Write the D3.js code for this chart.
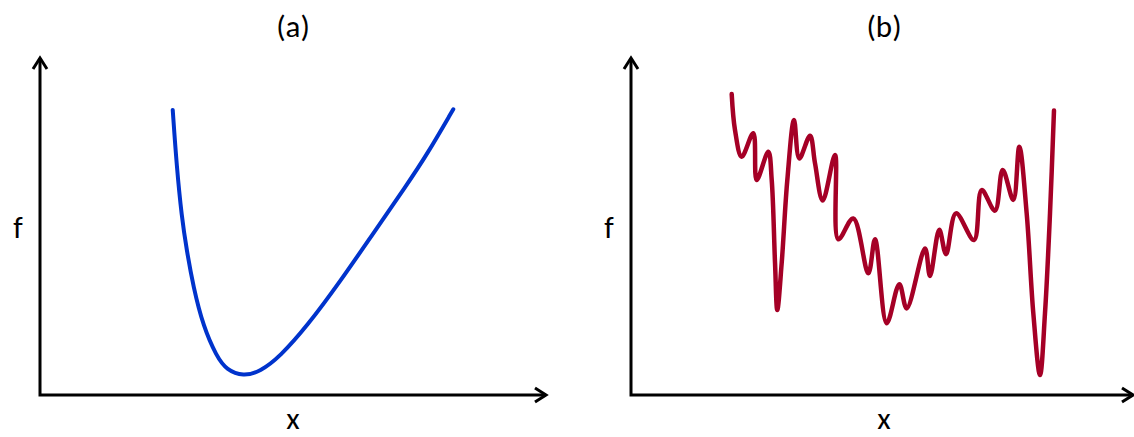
<!DOCTYPE html>
<html>
<head>
<script src="https://cdnjs.cloudflare.com/ajax/libs/d3/7.8.5/d3.min.js"></script>
<meta charset="utf-8">
<title>convex vs non-convex</title>
<style>
body { margin: 0; background: #fff; }
svg { display: block; }
.lbl { font-family: Carlito, Calibri, Lato, sans-serif; font-size: 31px; fill: #000; }
</style>
</head>
<body>
<script>

// panel (a): smooth convex function, x / f in arbitrary 0-100 units
var xA = [26.23, 27.02, 28.00, 28.99, 30.30, 32.27, 34.92, 36.90, 40.18, 43.48, 47.43, 52.71, 59.29, 65.87, 72.47, 76.42, 81.68];
var fA = [84.6, 67.7, 52.9, 43.0, 32.1, 20.3, 11.4, 7.4, 5.6, 6.9, 11.4, 20.3, 33.6, 48.0, 62.3, 71.2, 84.8];

// panel (b): rugged non-convex function
var xB = [20.06, 20.72, 22.05, 24.36, 25.04, 27.35, 28.03, 28.69, 29.14, 30.02, 31.14, 32.47, 33.53, 35.66, 36.65,
          38.19, 40.64, 41.29, 44.28, 47.27, 48.61, 50.94, 53.45, 54.92, 58.57, 59.56, 61.41, 62.75, 64.74, 68.33,
          69.86, 72.51, 74.04, 76.16, 77.35, 78.82, 80.14, 81.47, 82.47, 83.47, 84.26];
var fB = [89.3, 78.6, 70.7, 77.7, 63.8, 72.2, 63.8, 39.2, 25.2, 39.2, 63.8, 81.6, 70.2, 76.9, 68.8,
          57.7, 71.2, 46.2, 52.4, 36.1, 46.2, 21.3, 32.9, 25.7, 43.5, 35.3, 49.0, 41.8, 53.9, 46.0,
          60.8, 54.7, 66.8, 57.9, 73.7, 53.9, 24.3, 5.9, 24.3, 54.0, 84.4];

var titles = ["(a)", "(b)"];
var xLabel = "x", yLabel = "f";

var W = 1134, H = 437;
var svg = d3.select("body").append("svg").attr("width", W).attr("height", H);

var panels = [
  { x0: 40, x1: 546, xs: xA, fs: fA, color: "#0033cc", sw: 4, title: titles[0], curve: d3.curveBasis },
  { x0: 631, x1: 1133, xs: xB, fs: fB, color: "#a50026", sw: 4.5, title: titles[1], curve: d3.curveCatmullRom.alpha(0.5) }
];

var yBase = 395, yTop = 58;

panels.forEach(function(p) {
  var x = d3.scaleLinear().domain([0, 100]).range([p.x0, p.x1]);
  var y = d3.scaleLinear().domain([0, 100]).range([yBase, yTop]);
  var g = svg.append("g");

  // axes
  g.append("path")
    .attr("d", "M" + p.x0 + "," + yTop + "V" + yBase + "H" + p.x1)
    .attr("fill", "none").attr("stroke", "#000").attr("stroke-width", 3);
  // arrowheads
  g.append("path")
    .attr("d", "M" + (p.x0 - 7) + "," + (yTop + 11) + "L" + p.x0 + "," + yTop + "L" + (p.x0 + 7) + "," + (yTop + 11))
    .attr("fill", "none").attr("stroke", "#000").attr("stroke-width", 3);
  g.append("path")
    .attr("d", "M" + (p.x1 - 11) + "," + (yBase - 7) + "L" + p.x1 + "," + yBase + "L" + (p.x1 - 11) + "," + (yBase + 7))
    .attr("fill", "none").attr("stroke", "#000").attr("stroke-width", 3);

  var pts = p.xs.map(function(v, i) { return [v, p.fs[i]]; });
  var line = d3.line()
    .x(function(d) { return x(d[0]); })
    .y(function(d) { return y(d[1]); })
    .curve(p.curve);

  g.append("path")
    .datum(pts)
    .attr("d", line)
    .attr("fill", "none")
    .attr("stroke", p.color)
    .attr("stroke-width", p.sw)
    .attr("stroke-linecap", "round")
    .attr("stroke-linejoin", "round");

  var cx = p.x0 + 253;
  g.append("text").attr("class", "lbl").attr("x", cx).attr("y", 37)
    .attr("text-anchor", "middle").text(p.title);
  g.append("text").attr("class", "lbl").attr("x", cx).attr("y", 429)
    .attr("text-anchor", "middle").text(xLabel);
  g.append("text").attr("class", "lbl").attr("x", p.x0 - 22).attr("y", 238)
    .attr("text-anchor", "middle").text(yLabel);
});

</script>
</body>
</html>
